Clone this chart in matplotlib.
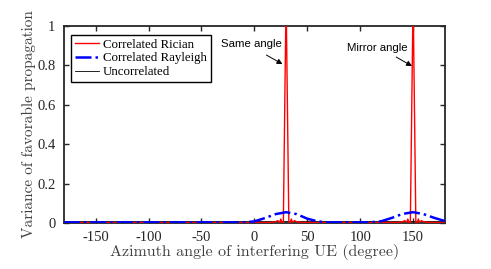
import matplotlib
matplotlib.use("Agg")
import matplotlib.pyplot as plt
import numpy as np

# Correlated Rician: narrow spikes at the same angle (30) and mirror angle (150)
rician_angle = [-180, -120, -60, -20, 0, 15, 20, 22, 24, 25, 26, 27.4, 30, 32.6, 34, 35, 36, 38, 40, 45,
                60, 90, 110, 135, 140, 142, 144, 145, 146, 147.4, 150, 152.6, 154, 155, 156, 158, 160, 165, 180]
rician_var = [0.002, 0.002, 0.002, 0.002, 0.002, 0.003, 0.006, 0.012, 0.004, 0.02, 0.004, 0.0, 1.15, 0.0, 0.004, 0.02, 0.004, 0.012, 0.006, 0.003,
              0.002, 0.002, 0.002, 0.003, 0.006, 0.012, 0.004, 0.02, 0.004, 0.0, 1.15, 0.0, 0.004, 0.02, 0.004, 0.012, 0.006, 0.003, 0.002]

# Correlated Rayleigh: smooth bumps around the same and mirror angles
rayleigh_angle = [-180, -150, -100, -50, -20, -10, 0, 10, 20, 30, 40, 50, 60, 70, 80, 100, 110, 120, 130, 140, 150, 160, 170, 180]
rayleigh_var = [0.003, 0.003, 0.003, 0.003, 0.003, 0.004, 0.008, 0.025, 0.045, 0.055, 0.045, 0.022, 0.008, 0.003, 0.003,
                0.003, 0.004, 0.009, 0.026, 0.046, 0.055, 0.045, 0.026, 0.01]

# Uncorrelated: flat
uncorr_angle = [-180, 180]
uncorr_var = [0.012, 0.012]

xticks = [-150, -100, -50, 0, 50, 100, 150]
yticks = [0, 0.2, 0.4, 0.6, 0.8, 1]

fig = plt.figure(figsize=(4.91, 2.69), dpi=100)
ax = fig.add_axes([0.130, 0.171, 0.776, 0.732])

ax.plot(uncorr_angle, uncorr_var, color="black", linewidth=0.6, label="Uncorrelated", zorder=2)
ax.plot(rician_angle, rician_var, color="red", linewidth=1.0, label="Correlated Rician", zorder=3)
ax.plot(rayleigh_angle, rayleigh_var, color="blue", linewidth=1.8, linestyle="-.", label="Correlated Rayleigh", zorder=4)

ax.set_xlim(-180, 180)
ax.set_ylim(0, 1)
ax.set_xticks(xticks)
ax.set_yticks(yticks)
ax.set_yticklabels(["0", "0.2", "0.4", "0.6", "0.8", "1"])
ax.set_xticklabels([str(t) for t in xticks])
ax.tick_params(direction="in", top=True, right=True, length=3.5, width=1.0, labelsize=10.5, colors="#262626")
ax.tick_params(axis="x", pad=6)
ax.tick_params(axis="y", pad=6)
for lab in ax.get_xticklabels() + ax.get_yticklabels():
    lab.set_fontfamily("Liberation Serif")
for sp in ax.spines.values():
    sp.set_linewidth(1.3)
    sp.set_color("#262626")

ax.set_xlabel("Azimuth angle of interfering UE (degree)", fontfamily="cmr10", fontsize=11.5, color="#404040", labelpad=0)
ax.set_ylabel("Variance of favorable propagation", fontfamily="cmr10", fontsize=11, color="#404040", labelpad=1)

handles, labels = ax.get_legend_handles_labels()
order = [1, 2, 0]
leg = ax.legend([handles[i] for i in order], [labels[i] for i in order], loc="upper left",
                bbox_to_anchor=(0.018, 0.955), prop={"family": "Liberation Serif", "size": 9.3},
                fancybox=False, edgecolor="black", framealpha=1, borderpad=0.3,
                labelspacing=0.12, handlelength=1.9, handletextpad=0.3, borderaxespad=0)
leg.get_frame().set_linewidth(1.0)

# annotation texts and arrows
ax.text(-3, 0.91, "Same angle", fontsize=8.2, fontfamily="Liberation Sans", ha="center", va="center")
ax.annotate("", xy=(26.6, 0.807), xytext=(11.4, 0.853),
            arrowprops=dict(arrowstyle="-|>", color="black", lw=0.7, mutation_scale=8, shrinkA=0, shrinkB=0))
ax.text(116.3, 0.888, "Mirror angle", fontsize=8.2, fontfamily="Liberation Sans", ha="center", va="center")
ax.annotate("", xy=(149.0, 0.797), xytext=(134.0, 0.843),
            arrowprops=dict(arrowstyle="-|>", color="black", lw=0.7, mutation_scale=8, shrinkA=0, shrinkB=0))

fig.savefig("out.png", dpi=100)
